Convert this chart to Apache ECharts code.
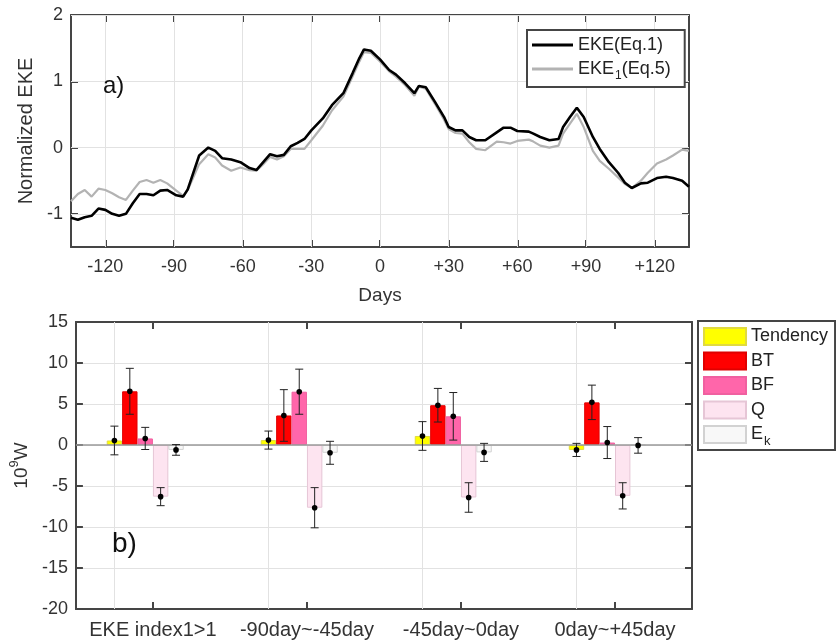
<!DOCTYPE html>
<html><head><meta charset="utf-8">
<script src="https://cdn.jsdelivr.net/npm/echarts@6/dist/echarts.min.js"></script>
<style>html,body{margin:0;padding:0;background:#fff}#c{width:836px;height:642px}</style>
</head><body><div id="c"></div>
<script>
// ---------- panel a) data ----------
const days = [-135,-132,-129,-126,-123,-120,-117,-114,-111,-108,-105,-102,-99,-96,-93,-89,-86,-84,-79,-75,-72,-69,
  -65,-61,-57,-54,-51,-48,-45,-42,-39,-36,-33,-30,-25,-21,-16,-12,-9,-7,-4,
  0,4,7,11,15,17,20,24,28,30,33,36,39,42,46,51,54,57,60,65,
  67,70,74,78,80,83,86,89,93,96,100,104,107,110,114,117,121,125,128,132,135];
const ekeEq1 = [-1.06,-1.09,-1.05,-1.03,-0.92,-0.94,-1.00,-1.03,-1.00,-0.84,-0.70,-0.70,-0.72,-0.65,-0.64,-0.72,-0.74,-0.63,-0.12,0.00,-0.05,-0.16,
  -0.18,-0.22,-0.31,-0.34,-0.22,-0.10,-0.13,-0.11,0.02,0.07,0.13,0.26,0.44,0.64,0.82,1.12,1.35,1.48,1.46,
  1.33,1.17,1.10,0.97,0.82,0.93,0.91,0.69,0.46,0.31,0.26,0.26,0.16,0.11,0.11,0.23,0.30,0.30,0.25,0.24,
  0.21,0.16,0.11,0.13,0.31,0.46,0.60,0.46,0.16,-0.02,-0.22,-0.38,-0.53,-0.61,-0.54,-0.53,-0.46,-0.44,-0.46,-0.50,-0.59];
const eke1Eq5 = [-0.81,-0.70,-0.64,-0.74,-0.62,-0.64,-0.69,-0.75,-0.79,-0.65,-0.52,-0.49,-0.53,-0.49,-0.54,-0.65,-0.73,-0.64,-0.25,-0.10,-0.15,-0.27,
  -0.35,-0.30,-0.34,-0.35,-0.25,-0.14,-0.18,-0.13,-0.02,-0.02,-0.02,0.11,0.33,0.56,0.77,1.07,1.30,1.44,1.43,
  1.30,1.15,1.07,0.94,0.78,0.92,0.89,0.66,0.42,0.28,0.22,0.21,0.08,-0.02,-0.04,0.09,0.08,0.06,0.10,0.12,
  0.09,0.03,0.00,0.03,0.21,0.36,0.51,0.31,-0.05,-0.20,-0.32,-0.45,-0.55,-0.61,-0.50,-0.38,-0.24,-0.18,-0.12,-0.03,-0.05];
const dayTicks = [-120,-90,-60,-30,0,30,60,90,120];
const ekeTicks = [-1,0,1,2];
const lineNames = ['EKE(Eq.1)','EKE1(Eq.5)'];

// ---------- panel b) data ----------
const categories = ['EKE index1>1','-90day~-45day','-45day~0day','0day~+45day'];
const termNames = ['Tendency','BT','BF','Q','Ek'];
const tendency = [0.55, 0.6, 1.1, -0.6];
const tendencyErr = [1.75, 1.1, 1.75, 0.8];
const bt = [6.55, 3.6, 4.85, 5.2];
const btErr = [2.8, 3.15, 2.05, 2.1];
const bf = [0.8, 6.5, 3.5, 0.3];
const bfErr = [1.35, 2.75, 2.9, 1.95];
const q = [-6.3, -7.65, -6.4, -6.2];
const qErr = [1.1, 2.45, 1.8, 1.6];
const ek = [-0.6, -0.95, -0.9, -0.05];
const ekErr = [0.65, 1.4, 1.1, 0.95];

const FONT = 'Liberation Sans, Arial, sans-serif';
const TXT = '#333';
const BOX = '#454545';
const GRIDC = '#e2e2e2';

const termValues = [tendency, bt, bf, q, ek];
const termErrs = [tendencyErr, btErr, bfErr, qErr, ekErr];
const termColors = ['#FFFF00', '#FF0000', '#FF66AA', '#FDE4F0', '#F8F8F8'];
const termBorders = ['#E0DA40', '#E00000', '#F060A0', '#E6C6D6', '#D2D2D2'];

const errRows = [];
termValues.forEach((arr, s) => arr.forEach((v, c) => errRows.push([c, s, v, termErrs[s][c]])));

const chart = echarts.init(document.getElementById('c'), null, {renderer: 'canvas'});

const tickStyle = {show: true, inside: true, length: 7, lineStyle: {color: BOX, width: 2}};
const boxLine = {show: true, onZero: false, lineStyle: {color: BOX, width: 2}};

const barSeries = termNames.map((n, i) => ({
  name: n, type: 'bar', xAxisIndex: 2, yAxisIndex: 2,
  data: termValues[i], barWidth: '10%', barGap: '0%',
  itemStyle: {color: termColors[i], borderColor: termBorders[i], borderWidth: 1},
  z: 3
}));
barSeries[0].markLine = {
  silent: true, symbol: 'none', z: 2, animation: false,
  label: {show: false}, lineStyle: {color: GRIDC, width: 1, type: 'solid'},
  data: categories.map(c => ({xAxis: c}))
};
barSeries[1].markLine = {
  silent: true, symbol: 'none', z: 4, animation: false,
  label: {show: false}, lineStyle: {color: '#9a9a9a', width: 1.5, type: 'solid'},
  data: [{yAxis: 0}]
};
// empty slot to reproduce the grouped-bar offset of the original
barSeries.push({name: '_pad', type: 'bar', xAxisIndex: 2, yAxisIndex: 2, data: categories.map(() => null), barWidth: '10%', barGap: '0%'});

const option = {
  animation: false,
  textStyle: {fontFamily: FONT},
  grid: [
    {left: 71, top: 15, width: 618, height: 232, show: false},
    {left: 72, top: 322, width: 620, height: 287, show: false}
  ],
  xAxis: [
    {type: 'value', gridIndex: 0, min: -135, max: 135, position: 'bottom',
     axisLine: boxLine, splitLine: {show: false},
     axisTick: Object.assign({customValues: dayTicks}, tickStyle),
     axisLabel: {customValues: dayTicks, fontSize: 18, color: TXT, margin: 11, fontFamily: FONT,
                 formatter: v => (v > 0 ? '+' + v : '' + v)},
     name: 'Days', nameLocation: 'middle', nameGap: 39,
     nameTextStyle: {fontSize: 19, color: TXT, fontFamily: FONT}},
    {type: 'value', gridIndex: 0, min: -135, max: 135, position: 'top',
     axisLine: boxLine, splitLine: {show: false}, axisLabel: {show: false},
     axisTick: Object.assign({customValues: dayTicks}, tickStyle)},
    {type: 'category', gridIndex: 1, data: categories, position: 'bottom',
     axisLine: boxLine, splitLine: {show: false},
     axisTick: Object.assign({alignWithLabel: true}, tickStyle),
     axisLabel: {fontSize: 20, color: TXT, margin: 11, fontFamily: FONT, interval: 0}},
    {type: 'category', gridIndex: 1, data: categories, position: 'top',
     axisLine: boxLine, splitLine: {show: false}, axisLabel: {show: false},
     axisTick: Object.assign({alignWithLabel: true}, tickStyle)}
  ],
  yAxis: [
    {type: 'value', gridIndex: 0, min: -1.5, max: 2, position: 'left',
     axisLine: boxLine, splitLine: {show: false},
     axisTick: Object.assign({customValues: ekeTicks}, tickStyle),
     axisLabel: {customValues: ekeTicks, fontSize: 18, color: TXT, margin: 8, fontFamily: FONT},
     name: 'Normalized EKE', nameLocation: 'middle', nameGap: 27,
     nameTextStyle: {fontSize: 20, color: TXT, fontFamily: FONT}},
    {type: 'value', gridIndex: 0, min: -1.5, max: 2, position: 'right',
     axisLine: boxLine, splitLine: {show: false}, axisLabel: {show: false},
     axisTick: Object.assign({customValues: ekeTicks}, tickStyle)},
    {type: 'value', gridIndex: 1, min: -20, max: 15, interval: 5, position: 'left',
     axisLine: boxLine,
     splitLine: {show: true, lineStyle: {color: GRIDC, width: 1}},
     axisTick: tickStyle,
     axisLabel: {fontSize: 18, color: TXT, margin: 8, fontFamily: FONT},
     name: '{n|10}{sup|9}{n|W}', nameLocation: 'middle', nameGap: 33,
     nameTextStyle: {color: TXT, fontFamily: FONT, rich: {
       n: {fontSize: 19, color: TXT, fontFamily: FONT},
       sup: {fontSize: 13, color: TXT, fontFamily: FONT, padding: [0, 0, 14, 0]}
     }}},
    {type: 'value', gridIndex: 1, min: -20, max: 15, interval: 5, position: 'right',
     axisLine: boxLine, splitLine: {show: false}, axisLabel: {show: false},
     axisTick: tickStyle}
  ],
  legend: [
    {data: lineNames, orient: 'vertical', left: 527, top: 30,
     icon: 'rect', itemWidth: 41, itemHeight: 3, itemGap: 6,
     padding: [6, 14, 5, 5], borderColor: BOX, borderWidth: 2, backgroundColor: '#fff',
     selectedMode: false,
     formatter: n => (n === 'EKE1(Eq.5)' ? '{n|EKE}{s|1}{n|(Eq.5)}' : n),
     textStyle: {fontSize: 18, color: '#222', fontFamily: FONT, lineHeight: 18, rich: {
       n: {fontSize: 18, color: '#222', fontFamily: FONT, lineHeight: 18},
       s: {fontSize: 12, color: '#222', fontFamily: FONT, padding: [14, 0, 0, 1]}
     }}},
    {data: termNames, orient: 'vertical', left: 698, top: 321,
     icon: 'rect', itemWidth: 42, itemHeight: 17, itemGap: 5.5,
     padding: [6, 7, 2, 5], borderColor: BOX, borderWidth: 2, backgroundColor: '#fff',
     selectedMode: false,
     formatter: n => (n === 'Ek' ? '{n|E}{s|k}' : n),
     textStyle: {fontSize: 18, color: '#222', fontFamily: FONT, lineHeight: 17, rich: {
       n: {fontSize: 18, color: '#222', fontFamily: FONT, lineHeight: 17},
       s: {fontSize: 13, color: '#222', fontFamily: FONT, padding: [14, 0, 0, 1]}
     }}}
  ],
  graphic: [
    {type: 'text', left: 103, top: 74, z: 10, style: {text: 'a)', fontSize: 24, fill: '#111', fontFamily: FONT}},
    {type: 'text', left: 112, top: 530, z: 10, style: {text: 'b)', fontSize: 28, fill: '#111', fontFamily: FONT}}
  ],
  series: [
    {name: lineNames[1], type: 'line', xAxisIndex: 0, yAxisIndex: 0,
     data: days.map((d, i) => [d, eke1Eq5[i]]), showSymbol: false, symbol: 'none',
     color: '#b3b3b3', lineStyle: {color: '#b3b3b3', width: 2.2}, z: 3,
     markLine: {silent: true, symbol: 'none', z: 2, animation: false, label: {show: false},
       lineStyle: {color: GRIDC, width: 1, type: 'solid'},
       data: dayTicks.map(d => ({xAxis: d})).concat(ekeTicks.map(v => ({yAxis: v})))}},
    {name: lineNames[0], type: 'line', xAxisIndex: 0, yAxisIndex: 0,
     data: days.map((d, i) => [d, ekeEq1[i]]), showSymbol: false, symbol: 'none',
     color: '#000', lineStyle: {color: '#000', width: 2.6}, z: 4},
    ...barSeries,
    {name: 'err', type: 'custom', xAxisIndex: 2, yAxisIndex: 2, z: 6,
     data: errRows,
     encode: {x: 0, y: 2},
     renderItem: function (params, api) {
       const c = api.value(0), s = api.value(1), v = api.value(2), e = api.value(3);
       const band = api.size([1, 0])[0];
       const bw = band * 0.1;
       const p = api.coord([c, v]);
       const x = p[0] + (s - 2.5) * bw;
       const yT = api.coord([c, v + e])[1];
       const yB = api.coord([c, v - e])[1];
       const cap = 4;
       const st = {stroke: '#222', lineWidth: 1};
       return {type: 'group', children: [
         {type: 'line', shape: {x1: x, y1: yT, x2: x, y2: yB}, style: st},
         {type: 'line', shape: {x1: x - cap, y1: yT, x2: x + cap, y2: yT}, style: st},
         {type: 'line', shape: {x1: x - cap, y1: yB, x2: x + cap, y2: yB}, style: st},
         {type: 'circle', shape: {cx: x, cy: p[1], r: 2.8}, style: {fill: '#000'}}
       ]};
     }}
  ]
};
chart.setOption(option);
</script>
</body></html>
